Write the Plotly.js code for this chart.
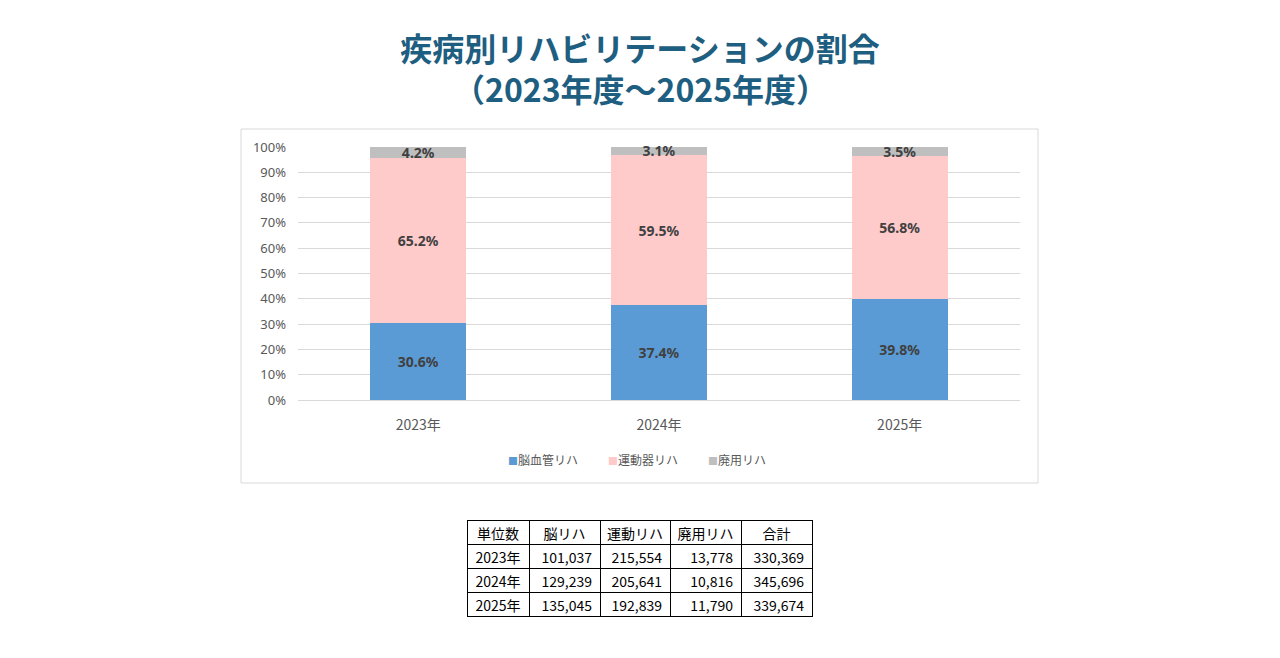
<!DOCTYPE html>
<html>
<head>
<meta charset="utf-8">
<script src="https://cdn.plot.ly/plotly-3.0.1.min.js"></script>
<style>
  html, body { margin: 0; padding: 0; background: #ffffff; }
  #chart { width: 1280px; height: 658px; }
</style>
</head>
<body>
<div id="chart"></div>
<script>
// Fiscal years shown on the category axis
const years = ['2023年', '2024年', '2025年'];

// Share of rehabilitation units per disease group (%)
const brainPct   = [30.6, 37.4, 39.8];
const motorPct   = [65.2, 59.5, 56.8];
const disusePct  = [4.2, 3.1, 3.5];

// Value-axis ticks
const yTickVals = [0, 10, 20, 30, 40, 50, 60, 70, 80, 90, 100];
const yTickText = yTickVals.map(v => v + '%');

// Unit counts for the summary table
const tableHeader = ['単位数', '脳リハ', '運動リハ', '廃用リハ', '合計'];
const brainUnits  = [101037, 129239, 135045];
const motorUnits  = [215554, 205641, 192839];
const disuseUnits = [13778, 10816, 11790];
const totalUnits  = [330369, 345696, 339674];

const seriesNames  = ['脳血管リハ', '運動器リハ', '廃用リハ'];
const seriesColors = ['#5B9BD5', '#FFCACA', '#BFBFBF'];

const titleLines = ['疾病別リハビリテーションの割合', '（2023年度～2025年度）'];

const W = 1280, H = 658;
const px = v => v / W;
const py = v => (H - v) / H;

// The stacks add up to a hair over 100 after rounding, so the value axis
// runs slightly past 100 to keep every segment (and its label) in range.
const yTop = 100.2;
const plotBottom = 400;
const pxPerUnit = (400 - 147) / 100;
const plotTop = plotBottom - yTop * pxPerUnit;

const labelFont = { family: 'Noto Sans, sans-serif', size: 14, color: '#404040', weight: 'bold' };
const cjk = 'Noto Sans CJK JP, sans-serif';

function barTrace(name, values, color) {
  return {
    type: 'bar',
    name: name,
    x: years,
    y: values,
    marker: { color: color, line: { width: 0 } },
    text: values.map(v => v.toFixed(1) + '%'),
    textposition: 'inside',
    insidetextanchor: 'middle',
    textangle: 0,
    textfont: labelFont,
    hoverinfo: 'skip',
    showlegend: false,
    cliponaxis: false
  };
}

const data = [
  barTrace(seriesNames[0], brainPct, seriesColors[0]),
  barTrace(seriesNames[1], motorPct, seriesColors[1]),
  barTrace(seriesNames[2], disusePct, seriesColors[2]),
  {
    type: 'table',
    domain: { x: [px(467), px(812)], y: [py(617), py(520)] },
    columnwidth: [62, 71, 70, 71, 71],
    header: {
      values: tableHeader,
      align: 'center',
      height: 24,
      line: { color: '#000000', width: 1 },
      fill: { color: '#ffffff' },
      font: { family: cjk, size: 14, color: '#000000' }
    },
    cells: {
      values: [years, brainUnits, motorUnits, disuseUnits, totalUnits],
      format: ['', ',d', ',d', ',d', ',d'],
      align: ['center', 'right', 'right', 'right', 'right'],
      height: 24,
      line: { color: '#000000', width: 1 },
      fill: { color: '#ffffff' },
      font: { family: cjk, size: 14, color: '#000000' }
    }
  }
];

// Legend entries: a small coloured square followed by the series name
const legendX = [506, 606, 706];
const legendAnnotations = seriesNames.map((name, i) => ({
  xref: 'paper', yref: 'paper',
  x: px(legendX[i]), y: py(459),
  xanchor: 'left', yanchor: 'middle',
  showarrow: false,
  text: '<span style="color:' + seriesColors[i] + ';font-size:10px">■</span>' + name,
  font: { family: cjk, size: 12, color: '#595959' }
}));

const titleFont = { family: cjk, size: 32, color: '#1E5E80', weight: 'bold' };

const layout = {
  width: W,
  height: H,
  margin: { l: 0, r: 0, t: 0, b: 0 },
  paper_bgcolor: '#ffffff',
  plot_bgcolor: '#ffffff',
  showlegend: false,
  barmode: 'stack',
  bargap: 0.6,
  uniformtext: { mode: 'show', minsize: 14 },
  title: {
    text: titleLines[0],
    x: 0.5,
    xanchor: 'center',
    y: py(50),
    yanchor: 'middle',
    font: titleFont
  },
  xaxis: {
    domain: [px(298), px(1020)],
    type: 'category',
    showgrid: false,
    showline: true,
    linecolor: '#D9D9D9',
    linewidth: 1,
    ticks: '',
    ticklabelstandoff: 12,
    tickfont: { family: cjk, size: 14, color: '#595959' },
    fixedrange: true
  },
  yaxis: {
    domain: [py(plotBottom), py(plotTop)],
    range: [0, yTop],
    tickmode: 'array',
    tickvals: yTickVals,
    ticktext: yTickText,
    showgrid: true,
    gridcolor: '#D9D9D9',
    gridwidth: 1,
    zeroline: false,
    showline: false,
    ticks: '',
    ticklabelstandoff: 11,
    tickfont: { family: 'Noto Sans, sans-serif', size: 13, color: '#595959' },
    fixedrange: true
  },
  annotations: [
    {
      xref: 'paper', yref: 'paper',
      x: 0.5, y: py(88),
      xanchor: 'center', yanchor: 'middle',
      showarrow: false,
      text: titleLines[1],
      font: titleFont
    }
  ].concat(legendAnnotations),
  shapes: [
    {
      type: 'rect',
      xref: 'paper', yref: 'paper',
      x0: px(241), x1: px(1038),
      y0: py(483), y1: py(129),
      line: { color: '#D9D9D9', width: 1 },
      fillcolor: 'rgba(0,0,0,0)',
      layer: 'below'
    }
  ]
};

Plotly.newPlot('chart', data, layout, { displayModeBar: false, staticPlot: true });
</script>
</body>
</html>
